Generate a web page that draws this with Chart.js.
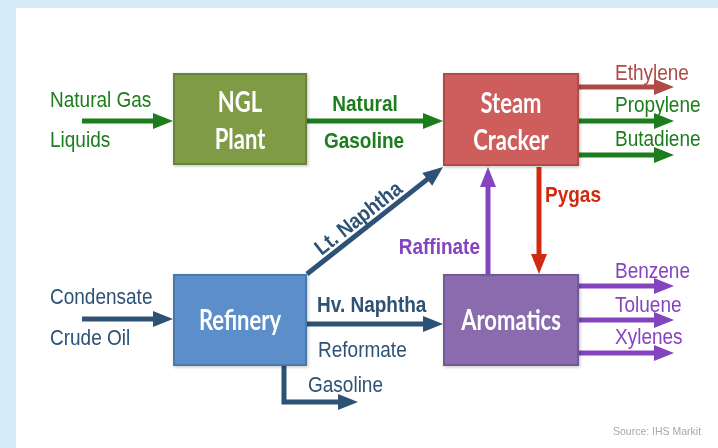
<!DOCTYPE html>
<html>
<head>
<meta charset="utf-8">
<script src="https://cdn.jsdelivr.net/npm/chart.js@4.4.1/dist/chart.umd.min.js"></script>
<style>
  html, body { margin: 0; padding: 0; background: #fff; }
  canvas { display: block; }
</style>
</head>
<body>
<canvas id="fluxo" width="718" height="448"></canvas>
<script>
// Nomes das unidades (caixas)
const unidades = [['NGL', 'Plant'], ['Steam', 'Cracker'], ['Refinery'], ['Aromatics']];
// Cargas de entrada
const cargasNGL = ['Natural Gas', 'Liquids'];
const cargasRefinaria = ['Condensate', 'Crude Oil'];
// Correntes intermediarias
const correnteNGL = ['Natural', 'Gasoline'];
const correnteLeve = 'Lt. Naphtha';
const correntePesada = 'Hv. Naphtha';
const correntePygas = 'Pygas';
const correnteRaffinate = 'Raffinate';
const saidasRefinaria = ['Reformate', 'Gasoline'];
// Produtos
const produtosCracker = ['Ethylene', 'Propylene', 'Butadiene'];
const produtosAromaticos = ['Benzene', 'Toluene', 'Xylenes'];
const fonte = 'Source: IHS Markit';

// cores
const verde = '#1b7d1b', vermelhoEt = '#b04a46', azul = '#2d5275', vermelho = '#d12a10', roxo = '#8544bf';

// caixas: x1, y1, x2, y2 (unidades do eixo)
const caixas = [
  { b: [173, 73, 307, 165], fill: '#7f9b45', line: '#6a8437' },
  { b: [443, 73, 579, 166], fill: '#cd5e5b', line: '#b04b48' },
  { b: [173, 274, 307, 366], fill: '#5c8fc9', line: '#4a78ad' },
  { b: [443, 274, 579, 366], fill: '#8a6cae', line: '#725a95' }
];

// setas: caminho e cor
const setas = [
  { p: [[82, 121], [173, 121]], c: verde },
  { p: [[307, 121], [443, 121]], c: verde },
  { p: [[579, 87], [674, 87]], c: vermelhoEt },
  { p: [[579, 121], [674, 121]], c: verde },
  { p: [[579, 155], [674, 155]], c: verde },
  { p: [[82, 319], [173, 319]], c: azul },
  { p: [[307, 274], [443, 167]], c: azul },
  { p: [[307, 324], [443, 324]], c: azul },
  { p: [[284, 366], [284, 402], [358, 402]], c: azul },
  { p: [[539, 167], [539, 274]], c: vermelho },
  { p: [[488, 274], [488, 167]], c: roxo },
  { p: [[579, 286], [674, 286]], c: roxo },
  { p: [[579, 320], [674, 320]], c: roxo },
  { p: [[579, 353], [674, 353]], c: roxo }
];
const pontaComp = 20, pontaMeia = 8;

// encurta o ultimo trecho para a linha nao passar da ponta
function haste(p) {
  const pts = p.map(v => ({ x: v[0], y: v[1] }));
  const a = pts[pts.length - 2], b = pts[pts.length - 1];
  const dx = b.x - a.x, dy = b.y - a.y, L = Math.hypot(dx, dy);
  pts[pts.length - 1] = { x: b.x - dx / L * pontaComp * 0.7, y: b.y - dy / L * pontaComp * 0.7 };
  return pts;
}

function texto(ctx, s, x, y, font, cor, align, sy, rot) {
  ctx.save();
  ctx.translate(x, y);
  if (rot) ctx.rotate(rot);
  ctx.scale(1, sy || 1);
  ctx.font = font;
  ctx.fillStyle = cor;
  ctx.textAlign = align || 'left';
  ctx.textBaseline = 'middle';
  ctx.fillText(s, 0, 0);
  ctx.restore();
}

const desenho = {
  id: 'desenho',
  beforeDraw(chart) {
    const ctx = chart.ctx;
    ctx.save();
    ctx.fillStyle = '#d6ecf8';
    ctx.fillRect(0, 0, chart.width, chart.height);
    ctx.fillStyle = '#ffffff';
    ctx.fillRect(16, 8, chart.width - 16, chart.height - 8);
    ctx.restore();
  },
  afterDatasetsDraw(chart) {
    const ctx = chart.ctx, X = chart.scales.x, Y = chart.scales.y;
    const px = v => X.getPixelForValue(v), py = v => Y.getPixelForValue(v);

    // pontas das setas
    setas.forEach(s => {
      const a = s.p[s.p.length - 2], b = s.p[s.p.length - 1];
      const ax = px(a[0]), ay = py(a[1]), bx = px(b[0]), by = py(b[1]);
      const L = Math.hypot(bx - ax, by - ay), ux = (bx - ax) / L, uy = (by - ay) / L;
      const cx = bx - ux * pontaComp, cy = by - uy * pontaComp;
      ctx.beginPath();
      ctx.moveTo(bx, by);
      ctx.lineTo(cx - uy * pontaMeia, cy + ux * pontaMeia);
      ctx.lineTo(cx + uy * pontaMeia, cy - ux * pontaMeia);
      ctx.closePath();
      ctx.fillStyle = s.c;
      ctx.fill();
    });

    // caixas
    caixas.forEach((c, i) => {
      const x1 = px(c.b[0]), y1 = py(c.b[1]), x2 = px(c.b[2]), y2 = py(c.b[3]);
      ctx.save();
      ctx.shadowColor = 'rgba(0,0,0,0.25)';
      ctx.shadowBlur = 3;
      ctx.shadowOffsetX = 1;
      ctx.shadowOffsetY = 1;
      ctx.fillStyle = c.fill;
      ctx.fillRect(x1, y1, x2 - x1, y2 - y1);
      ctx.restore();
      ctx.strokeStyle = c.line;
      ctx.lineWidth = 2;
      ctx.strokeRect(x1 + 1, y1 + 1, x2 - x1 - 2, y2 - y1 - 2);
      const linhas = unidades[i];
      const cx = (x1 + x2) / 2, cy = (y1 + y2) / 2;
      linhas.forEach((l, k) => {
        const yy = linhas.length === 1 ? cy + 1 : cy + (k === 0 ? -16 : 21);
        texto(ctx, l, cx, yy, 'bold 22px Lato', '#ffffff', 'center', 1.3);
      });
    });

    const reg = '19px "Liberation Sans", Arial', neg = 'bold 19px "Liberation Sans", Arial';
    const sy = 1.12;
    texto(ctx, cargasNGL[0], px(50), py(101), reg, verde, 'left', sy);
    texto(ctx, cargasNGL[1], px(50), py(141), reg, verde, 'left', sy);
    texto(ctx, correnteNGL[0], px(365), py(105), neg, verde, 'center', sy);
    texto(ctx, correnteNGL[1], px(364), py(142), neg, verde, 'center', sy);
    texto(ctx, produtosCracker[0], px(615), py(74), reg, vermelhoEt, 'left', sy);
    texto(ctx, produtosCracker[1], px(615), py(106), reg, verde, 'left', sy);
    texto(ctx, produtosCracker[2], px(615), py(140), reg, verde, 'left', sy);
    texto(ctx, correntePygas, px(545), py(196), neg, vermelho, 'left', sy);
    texto(ctx, correnteRaffinate, px(480), py(248), neg, roxo, 'right', sy);
    texto(ctx, correnteLeve, px(359), py(219), neg, azul, 'center', sy, Math.atan2(167 - 274, 443 - 307));
    texto(ctx, cargasRefinaria[0], px(50), py(298), reg, azul, 'left', sy);
    texto(ctx, cargasRefinaria[1], px(50), py(339), reg, azul, 'left', sy);
    texto(ctx, correntePesada, px(317), py(306), neg, azul, 'left', sy);
    texto(ctx, saidasRefinaria[0], px(318), py(351), reg, azul, 'left', sy);
    texto(ctx, saidasRefinaria[1], px(308), py(386), reg, azul, 'left', sy);
    texto(ctx, produtosAromaticos[0], px(615), py(272), reg, roxo, 'left', sy);
    texto(ctx, produtosAromaticos[1], px(615), py(306), reg, roxo, 'left', sy);
    texto(ctx, produtosAromaticos[2], px(615), py(338), reg, roxo, 'left', sy);
    texto(ctx, fonte, px(613), py(432), '10.5px "Liberation Sans", Arial', '#a8a8a8', 'left', 1.1);
  }
};

let grafico = new Chart(document.getElementById('fluxo').getContext('2d'), {
  type: 'scatter',
  data: {
    datasets: setas.map(s => ({
      data: haste(s.p),
      showLine: true,
      borderColor: s.c,
      borderWidth: 5,
      borderCapStyle: 'butt',
      borderJoinStyle: 'miter',
      pointRadius: 0,
      tension: 0
    }))
  },
  options: {
    responsive: false,
    animation: false,
    events: [],
    layout: { padding: 0 },
    plugins: { legend: { display: false }, tooltip: { enabled: false } },
    scales: {
      x: { type: 'linear', min: 0, max: 718, display: false },
      y: { type: 'linear', min: 0, max: 448, reverse: true, display: false }
    }
  },
  plugins: [desenho]
});
</script>
</body>
</html>
